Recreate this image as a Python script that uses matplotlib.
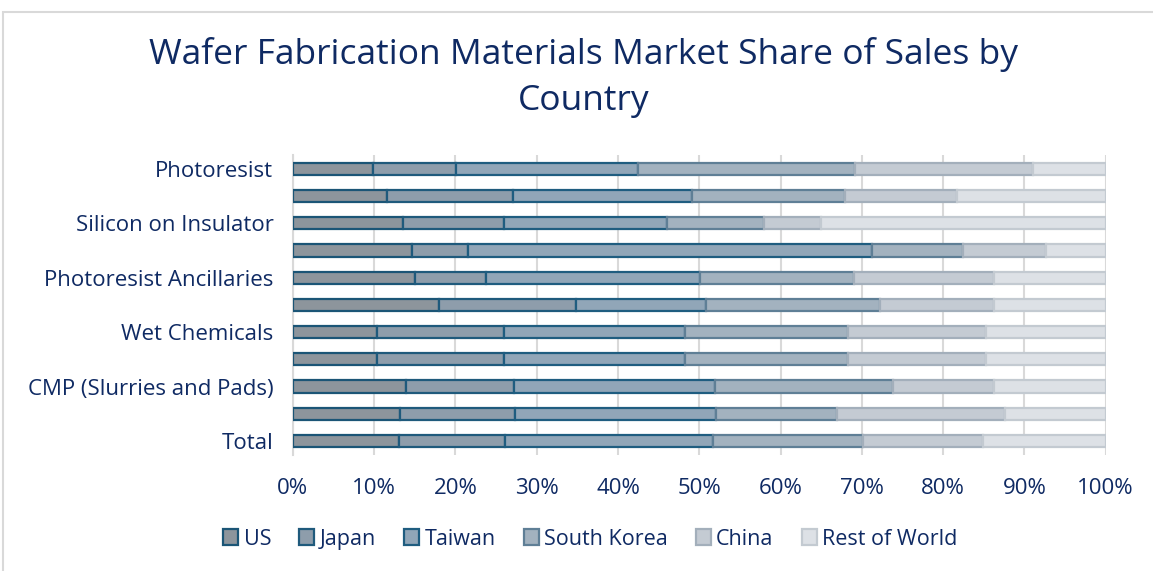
import matplotlib
matplotlib.use("Agg")
import matplotlib.pyplot as plt
import numpy as np
from matplotlib.patches import Rectangle, Patch

# categories from top to bottom (only every other one is labelled in the original)
categories = [
    "Photoresist",
    "Photomasks",
    "Silicon on Insulator",
    "Silicon Wafers",
    "Photoresist Ancillaries",
    "Sputter Targets",
    "Wet Chemicals",
    "Gases",
    "CMP (Slurries and Pads)",
    "Other",
    "Total",
]
shown_labels = [c if i % 2 == 0 else "" for i, c in enumerate(categories)]

countries = ["US", "Japan", "Taiwan", "South Korea", "China", "Rest of World"]

us = [9.8, 11.6, 13.6, 14.7, 15.0, 18.0, 10.3, 10.3, 13.9, 13.2, 13.0]
japan = [10.3, 15.5, 12.4, 6.9, 8.7, 16.8, 15.7, 15.7, 13.3, 14.1, 13.1]
taiwan = [22.3, 22.0, 20.0, 49.7, 26.4, 16.0, 22.3, 22.3, 24.7, 24.8, 25.6]
south_korea = [26.7, 18.8, 12.0, 11.1, 18.9, 21.4, 20.0, 20.0, 21.9, 14.8, 18.4]
china = [21.9, 13.8, 7.0, 10.2, 17.2, 14.0, 17.0, 17.0, 12.5, 20.7, 14.8]
rest_of_world = [9.0, 18.3, 35.0, 7.4, 13.8, 13.8, 14.7, 14.7, 13.7, 12.4, 15.1]

series = [us, japan, taiwan, south_korea, china, rest_of_world]

face_colors = ["#8d959c", "#8e9dab", "#91a6b8", "#a3b2bf", "#c4cbd3", "#dde1e6"]
edge_colors = ["#1b5576", "#1f5a7c", "#1f5d80", "#5f7f96", "#a3afbb", "#c3cad1"]
text_color = "#0f2a63"

plt.rcParams["font.family"] = ["Open Sans", "DejaVu Sans"]

fig = plt.figure(figsize=(11.53, 5.71), dpi=100)
ax = fig.add_axes([0.254, 0.204, 0.705, 0.524])

# outer chart border
fig.patches.append(Rectangle((3 / 1153, -0.05), 1.1, 1 - 12 / 571 + 0.05,
                             transform=fig.transFigure, fill=False,
                             edgecolor="#d9d9d9", linewidth=1.5))

y = np.arange(len(categories))
left = np.zeros(len(categories))
total = np.sum(np.array(series), axis=0)
for vals, name, fc, ec in zip(series, countries, face_colors, edge_colors):
    pct = np.array(vals) / total * 100
    ax.barh(y, pct, left=left, height=0.45, color=fc, edgecolor=ec,
            linewidth=1.6, label=name, zorder=3)
    left += pct

ax.set_xlim(0, 100)
ax.set_ylim(len(categories) - 0.5, -0.5)
ax.set_xticks(np.arange(0, 101, 10))
ax.set_xticklabels([f"{v}%" for v in range(0, 101, 10)])
ax.set_yticks(y)
ax.set_yticklabels(shown_labels)
ax.tick_params(axis="both", length=0, labelsize=16, labelcolor=text_color)
ax.tick_params(axis="x", pad=17)
ax.tick_params(axis="y", pad=14)

ax.grid(axis="x", color="#d9d9d9", linewidth=1.5, zorder=0)
for s in ["top", "right", "bottom"]:
    ax.spines[s].set_visible(False)
ax.spines["left"].set_color("#d9d9d9")
ax.spines["left"].set_linewidth(1.5)

fig.text(0.506, 0.905, "Wafer Fabrication Materials Market Share of Sales by",
         ha="center", va="center", fontsize=25.5, color=text_color)
fig.text(0.506, 0.823, "Country", ha="center", va="center", fontsize=25.5,
         color=text_color)

handles = [Patch(facecolor=fc, edgecolor=ec, linewidth=1.6, label=n)
           for n, fc, ec in zip(countries, face_colors, edge_colors)]
leg = fig.legend(handles=handles, loc="center", bbox_to_anchor=(0.512, 0.056),
                 ncol=6, frameon=False, fontsize=15.5, handlelength=0.7,
                 handleheight=0.7, handletextpad=0.25, columnspacing=1.3)
for t in leg.get_texts():
    t.set_color(text_color)

fig.savefig("out.png", dpi=100)
